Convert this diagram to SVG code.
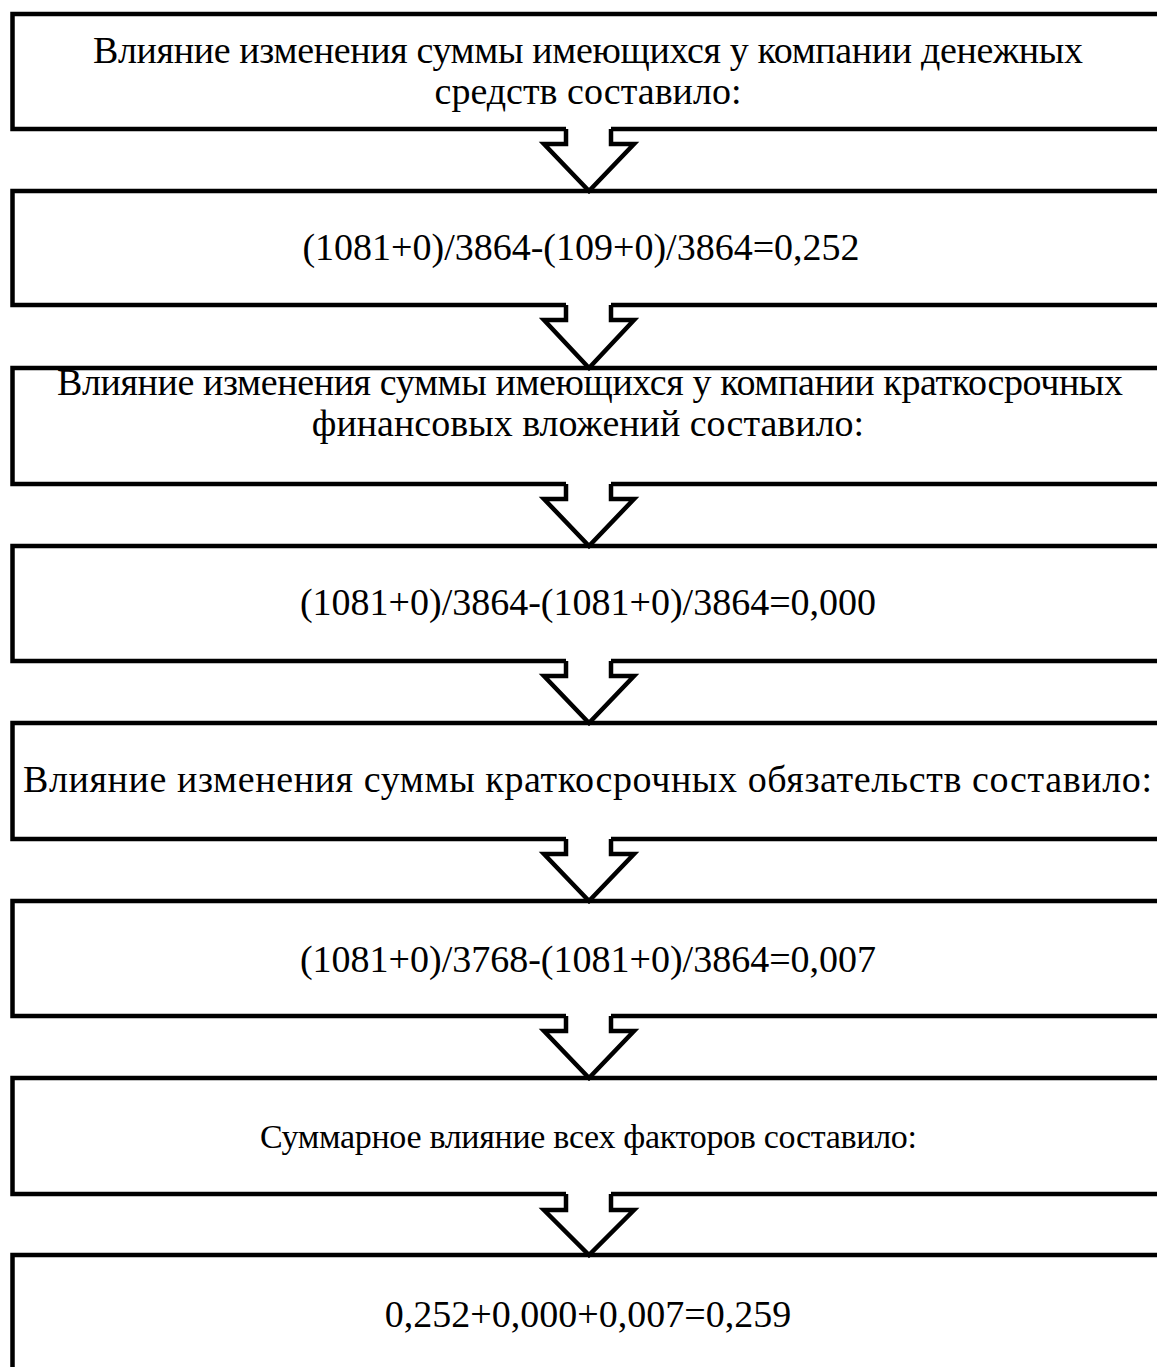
<svg xmlns="http://www.w3.org/2000/svg" width="1157" height="1367" viewBox="0 0 1157 1367">
<style>
.box{fill:#fff;stroke:#000;stroke-width:4.5}
.t{font-family:"Liberation Serif","Times New Roman",serif;font-size:38px;fill:#000;text-anchor:middle}
.af{fill:#fff;stroke:none}
.al{fill:none;stroke:#000;stroke-width:4.5;stroke-linejoin:miter}
</style>
<rect width="1157" height="1367" fill="#fff"/>
<g id="node1"><rect class="box" x="12.5" y="14" width="1155" height="115"/><text class="t" x="588" y="63" textLength="990" lengthAdjust="spacing">Влияние изменения суммы имеющихся у компании денежных</text><text class="t" x="588" y="104">средств составило:</text></g>
<g id="node2"><rect class="box" x="12.5" y="191" width="1155" height="114"/><text class="t" x="581" y="260">(1081+0)/3864-(109+0)/3864=0,252</text></g>
<g id="node3"><rect class="box" x="12.5" y="368" width="1155" height="116"/><text class="t" x="590" y="395" textLength="1066" lengthAdjust="spacing">Влияние изменения суммы имеющихся у компании краткосрочных</text><text class="t" x="588" y="436">финансовых вложений составило:</text></g>
<g id="node4"><rect class="box" x="12.5" y="546" width="1155" height="115"/><text class="t" x="588" y="615">(1081+0)/3864-(1081+0)/3864=0,000</text></g>
<g id="node5"><rect class="box" x="12.5" y="723" width="1155" height="116"/><text class="t" x="587.5" y="792" textLength="1129" lengthAdjust="spacing">Влияние изменения суммы краткосрочных обязательств составило:</text></g>
<g id="node6"><rect class="box" x="12.5" y="901" width="1155" height="115"/><text class="t" x="588" y="972">(1081+0)/3768-(1081+0)/3864=0,007</text></g>
<g id="node7"><rect class="box" x="12.5" y="1078" width="1155" height="116"/><text class="t" x="588.5" y="1148" style="font-size:34px" textLength="657" lengthAdjust="spacing">Суммарное влияние всех факторов составило:</text></g>
<g id="node8"><rect class="box" x="12.5" y="1255" width="1155" height="130"/><text class="t" x="588" y="1327">0,252+0,000+0,007=0,259</text></g>
<g id="connectors">
<g id="a1"><polygon class="af" points="566,125 566,144 544,144 589,191 634,144 611,144 611,125"/><polyline class="al" points="566,129 566,144 544,144 589,191 634,144 611,144 611,129"/></g>
<g id="a2"><polygon class="af" points="566,301 566,320 544,320 589,368 634,320 611,320 611,301"/><polyline class="al" points="566,305 566,320 544,320 589,368 634,320 611,320 611,305"/></g>
<g id="a3"><polygon class="af" points="566,480 566,499 544,499 589,546 634,499 611,499 611,480"/><polyline class="al" points="566,484 566,499 544,499 589,546 634,499 611,499 611,484"/></g>
<g id="a4"><polygon class="af" points="566,657 566,676 544,676 589,723 634,676 611,676 611,657"/><polyline class="al" points="566,661 566,676 544,676 589,723 634,676 611,676 611,661"/></g>
<g id="a5"><polygon class="af" points="566,835 566,854 544,854 589,901 634,854 611,854 611,835"/><polyline class="al" points="566,839 566,854 544,854 589,901 634,854 611,854 611,839"/></g>
<g id="a6"><polygon class="af" points="566,1012 566,1031 544,1031 589,1078 634,1031 611,1031 611,1012"/><polyline class="al" points="566,1016 566,1031 544,1031 589,1078 634,1031 611,1031 611,1016"/></g>
<g id="a7"><polygon class="af" points="566,1190 566,1210 544,1210 589,1255 634,1210 611,1210 611,1190"/><polyline class="al" points="566,1194 566,1210 544,1210 589,1255 634,1210 611,1210 611,1194"/></g>
</g>
</svg>
